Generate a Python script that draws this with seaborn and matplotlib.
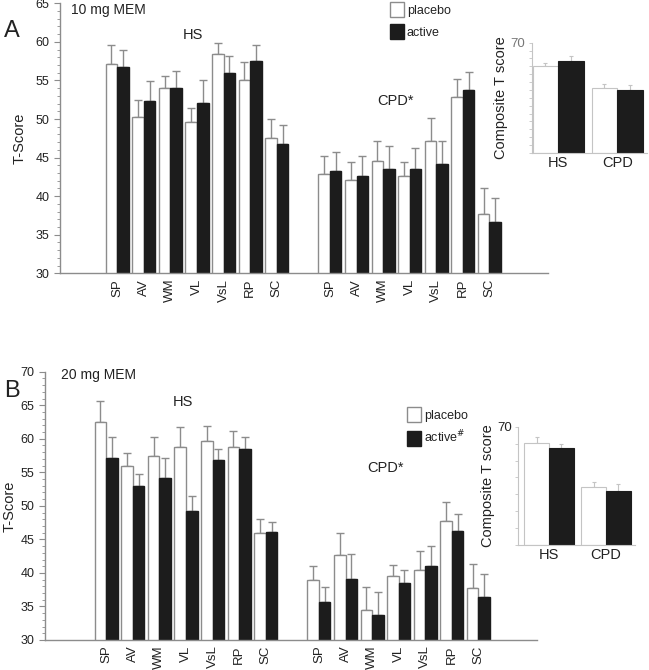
import numpy as np
import pandas as pd
import matplotlib
matplotlib.use("Agg")
import matplotlib.pyplot as plt
from matplotlib.patches import Patch
from matplotlib.ticker import MultipleLocator
import seaborn as sns

sns.set_style("ticks")
plt.rcParams["font.family"] = ["Liberation Sans", "DejaVu Sans"]

# ---------------- data ----------------
tests = ["SP", "AV", "WM", "VL", "VsL", "RP", "SC"]
groups = ["HS", "CPD"]

# Panel A (10 mg MEM)
a_hs_placebo = [57.1, 50.3, 54.0, 49.6, 58.4, 55.1, 47.5]
a_hs_placebo_sem = [2.5, 2.2, 1.6, 1.8, 1.4, 2.3, 2.5]
a_hs_active = [56.7, 52.3, 54.0, 52.1, 56.0, 57.5, 46.8]
a_hs_active_sem = [2.2, 2.6, 2.2, 3.0, 2.2, 2.1, 2.4]
a_cpd_placebo = [42.9, 42.1, 44.6, 42.6, 47.1, 52.8, 37.7]
a_cpd_placebo_sem = [2.3, 2.3, 2.5, 1.8, 3.0, 2.4, 3.4]
a_cpd_active = [43.2, 42.6, 43.5, 43.5, 44.2, 53.8, 36.6]
a_cpd_active_sem = [2.5, 2.6, 3.0, 2.7, 2.9, 2.3, 3.1]

# Panel B (20 mg MEM)
b_hs_placebo = [62.5, 55.9, 57.4, 58.7, 59.7, 58.8, 46.0]
b_hs_placebo_sem = [3.2, 2.0, 2.8, 3.0, 2.2, 2.3, 2.1]
b_hs_active = [57.2, 52.9, 54.2, 49.3, 56.8, 58.5, 46.1]
b_hs_active_sem = [3.0, 1.9, 2.9, 2.2, 1.7, 1.7, 1.5]
b_cpd_placebo = [38.9, 42.6, 34.5, 39.6, 40.4, 47.8, 37.7]
b_cpd_placebo_sem = [2.1, 3.3, 3.4, 1.6, 2.8, 2.8, 3.6]
b_cpd_active = [35.7, 39.1, 33.7, 38.5, 41.0, 46.3, 36.4]
b_cpd_active_sem = [2.2, 3.7, 3.5, 1.9, 3.0, 2.5, 3.4]

# Composite insets
a_comp_placebo = [55.2, 41.2]
a_comp_placebo_sem = [1.7, 2.5]
a_comp_active = [58.5, 39.7]
a_comp_active_sem = [3.3, 3.6]
b_comp_placebo = [60.4, 34.5]
b_comp_placebo_sem = [3.3, 3.0]
b_comp_active = [57.2, 32.1]
b_comp_active_sem = [2.4, 3.7]

# ---------------- styling ----------------
GRAY = "#8c8c8c"
LIGHT = "#c4c4c4"
BLACK = "#1c1c1c"
TXT = "#222222"
W, H = 649, 670

fig = plt.figure(figsize=(W / 100, H / 100), dpi=100)


def fx(px):
    return px / W


def fy(py):
    return 1 - py / H


def rect(l, t, r, b):
    return [fx(l), fy(b), fx(r) - fx(l), fy(t) - fy(b)]


def style_bars(ax, edge_p, edge_a, lw):
    pl, ac = [], []
    for p in ax.patches:
        fc = p.get_facecolor()
        if fc[0] > 0.5:
            p.set_edgecolor(edge_p)
            pl.append(p)
        else:
            p.set_edgecolor(edge_a)
            ac.append(p)
        p.set_linewidth(lw)
    pl.sort(key=lambda p: p.get_x())
    ac.sort(key=lambda p: p.get_x())
    return pl, ac


def add_err(ax, patches, sem, color, lw, cap):
    xs = [p.get_x() + p.get_width() / 2 for p in patches]
    ys = [p.get_height() for p in patches]
    ax.errorbar(xs, ys, yerr=[np.zeros(len(sem)), sem], fmt="none",
                ecolor=color, elinewidth=lw, capsize=cap, capthick=lw, zorder=1)


def main_panel(rect_, hs_p, hs_ps, hs_a, hs_as, cpd_p, cpd_ps, cpd_a, cpd_as,
               ylim, xlim, ylab_x):
    ax = fig.add_axes(rect_)
    pos = list(range(7)) + list(range(8, 15))
    df = pd.DataFrame({
        "pos": pos * 2,
        "score": hs_p + cpd_p + hs_a + cpd_a,
        "cond": ["placebo"] * 14 + ["active"] * 14,
    })
    sns.barplot(data=df, x="pos", y="score", hue="cond", native_scale=True,
                hue_order=["placebo", "active"],
                palette={"placebo": "white", "active": BLACK},
                width=0.87, errorbar=None, legend=False, ax=ax, zorder=2)
    pl, ac = style_bars(ax, GRAY, BLACK, 1.0)
    add_err(ax, pl, hs_ps + cpd_ps, GRAY, 1.0, 3)
    add_err(ax, ac, hs_as + cpd_as, GRAY, 1.0, 3)
    ax.set_xlim(*xlim)
    ax.set_ylim(*ylim)
    ax.set_xticks(pos)
    ax.set_xticklabels(tests + tests, rotation=90, fontsize=9.5, color=TXT)
    ax.yaxis.set_major_locator(MultipleLocator(5))
    ax.yaxis.set_minor_locator(MultipleLocator(1))
    ax.tick_params(axis="x", length=0, pad=4)
    ax.tick_params(axis="y", which="major", length=4, color=GRAY, labelsize=9,
                   labelcolor=TXT, width=0.8)
    ax.tick_params(axis="y", which="minor", length=2, color=GRAY, width=0.6)
    for s in ["top", "right"]:
        ax.spines[s].set_visible(False)
    for s in ["left", "bottom"]:
        ax.spines[s].set_color(GRAY)
        ax.spines[s].set_linewidth(1.0)
    ax.set_xlabel("")
    ax.set_ylabel("T-Score", fontsize=10.5, color=TXT)
    ax.yaxis.set_label_coords(ylab_x, 0.5)
    ax.patch.set_alpha(0)
    return ax


def inset_panel(rect_, p, ps, a, as_, xlim, minor, label_color):
    ax = fig.add_axes(rect_)
    df = pd.DataFrame({
        "grp": groups * 2,
        "score": p + a,
        "cond": ["placebo"] * 2 + ["active"] * 2,
    })
    sns.barplot(data=df, x="grp", y="score", hue="cond",
                hue_order=["placebo", "active"], order=groups,
                palette={"placebo": "white", "active": BLACK},
                width=0.87, errorbar=None, legend=False, ax=ax, zorder=2)
    pl, ac = style_bars(ax, LIGHT, BLACK, 0.8)
    add_err(ax, pl, ps, LIGHT, 0.8, 1.5)
    add_err(ax, ac, as_, LIGHT, 0.8, 1.5)
    ax.set_xlim(*xlim)
    ax.set_ylim(0, 70)
    ax.set_yticks([70])
    ax.set_yticklabels(["70"], fontsize=9.5, color=label_color)
    ax.yaxis.set_minor_locator(MultipleLocator(minor))
    ax.tick_params(axis="y", which="both", length=2.5, color=LIGHT, width=0.6, pad=2)
    ax.tick_params(axis="x", length=0, labelsize=10.5, labelcolor=TXT, pad=2)
    for s in ["top", "right"]:
        ax.spines[s].set_visible(False)
    for s in ["left", "bottom"]:
        ax.spines[s].set_color(LIGHT)
        ax.spines[s].set_linewidth(0.8)
    ax.set_xlabel("")
    ax.set_ylabel("Composite T score", fontsize=10.5, color=TXT, labelpad=2)
    ax.patch.set_alpha(0)
    return ax


# Panel A
axA = main_panel(rect(60, 3.3, 548, 273.3),
                 a_hs_placebo, a_hs_placebo_sem, a_hs_active, a_hs_active_sem,
                 a_cpd_placebo, a_cpd_placebo_sem, a_cpd_active, a_cpd_active_sem,
                 (30, 65), (-2.15, 16.2), -0.068)
# Panel B
axB = main_panel(rect(45, 371.7, 537, 640),
                 b_hs_placebo, b_hs_placebo_sem, b_hs_active, b_hs_active_sem,
                 b_cpd_placebo, b_cpd_placebo_sem, b_cpd_active, b_cpd_active_sem,
                 (30, 70), (-2.3, 16.2), -0.057)

inA = inset_panel(rect(531.7, 42.7, 646.7, 153), a_comp_placebo, a_comp_placebo_sem,
                  a_comp_active, a_comp_active_sem, (-0.45, 1.5), 5, "#777777")
inB = inset_panel(rect(518.3, 426.7, 635, 545), b_comp_placebo, b_comp_placebo_sem,
                  b_comp_active, b_comp_active_sem, (-0.54, 1.51), 10, TXT)

# Legends
def legend(x, y, active_label):
    handles = [Patch(facecolor="white", edgecolor=GRAY, linewidth=1.0),
               Patch(facecolor=BLACK, edgecolor=BLACK, linewidth=1.0)]
    fig.legend(handles, ["placebo", active_label], loc="upper left",
               bbox_to_anchor=(fx(x), fy(y)), frameon=False, fontsize=9,
               handlelength=1.1, handleheight=1.5, handletextpad=0.25,
               labelspacing=0.55, borderaxespad=0, borderpad=0,
               labelcolor=TXT)


legend(390, 2, "active")
legend(407, 407, "active$^{\\#}$")

# Annotations
fig.text(fx(4), fy(31), "A", fontsize=17, va="center", ha="left", color=TXT)
fig.text(fx(4), fy(391), "B", fontsize=17, va="center", ha="left", color=TXT)
fig.text(fx(71), fy(10), "10 mg MEM", fontsize=10, va="center", ha="left", color=TXT)
fig.text(fx(61), fy(375), "20 mg MEM", fontsize=10, va="center", ha="left", color=TXT)
fig.text(fx(193), fy(35), "HS", fontsize=10.5, va="center", ha="center", color=TXT)
fig.text(fx(183), fy(402), "HS", fontsize=10.5, va="center", ha="center", color=TXT)
fig.text(fx(395), fy(101), "CPD*", fontsize=10.5, va="center", ha="center", color=TXT)
fig.text(fx(385), fy(468), "CPD*", fontsize=10.5, va="center", ha="center", color=TXT)

fig.savefig("out.png", dpi=100, facecolor="white")
